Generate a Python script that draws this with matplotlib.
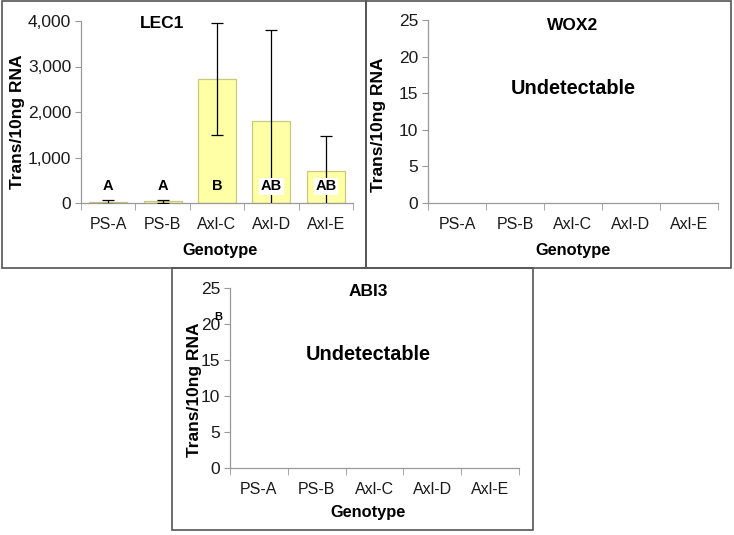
import matplotlib
matplotlib.use("Agg")
import matplotlib.pyplot as plt
from matplotlib.patches import Rectangle
import numpy as np

plt.rcParams['font.family'] = ['Liberation Sans', 'DejaVu Sans']

W, H = 734, 535

genotypes = ["PS-A", "PS-B", "Axl-C", "Axl-D", "Axl-E"]
lec1_mean = [25, 40, 2720, 1800, 700]
lec1_err = [40, 35, 1230, 2010, 775]
lec1_letters = ["A", "A", "B", "AB", "AB"]
lec1_boxed = [False, False, False, True, True]
letter_y = 370

fig = plt.figure(figsize=(W / 100, H / 100), dpi=100)


def px_axes(left, right, top, bottom):
    # pixel box -> figure fraction
    return fig.add_axes([left / W, 1 - bottom / H, (right - left) / W, (bottom - top) / H])


def ftext(x, y, s, **kw):
    # text placed in pixel coords from top-left
    kw.setdefault("ha", "center")
    kw.setdefault("va", "center")
    return fig.text(x / W, 1 - y / H, s, **kw)


def style_axes(ax, ymax, step, fmt):
    x = np.arange(len(genotypes))
    ax.set_xlim(-0.5, len(genotypes) - 0.5)
    ax.set_ylim(0, ymax)
    ticks = np.arange(0, ymax + 1, step)
    ax.set_yticks(ticks)
    ax.set_yticklabels([fmt.format(v) for v in ticks], fontsize=12.5, color="#1a1a1a")
    ax.set_xticks(x)
    ax.set_xticklabels(genotypes, fontsize=11.5, color="#1a1a1a")
    ax.set_xticks(np.arange(-0.5, len(genotypes)), minor=True)
    ax.tick_params(axis="x", which="major", length=0, pad=10)
    ax.tick_params(axis="x", which="minor", length=5, color="#999999", direction="out")
    ax.tick_params(axis="y", length=4, color="#999999", direction="out", pad=3)
    for s in ["top", "right"]:
        ax.spines[s].set_visible(False)
    for s in ["left", "bottom"]:
        ax.spines[s].set_color("#999999")
        ax.spines[s].set_linewidth(0.9)
    ax.set_facecolor("none")


bold = dict(fontweight="bold", color="black")

# LEC1
ax1 = px_axes(81, 353, 21, 203)
style_axes(ax1, 4000, 1000, "{:,.0f}")
ax1.bar(np.arange(len(genotypes)), lec1_mean, width=0.7, color="#ffffa6",
        edgecolor="#c9c97a", linewidth=0.9, zorder=2)
ax1.errorbar(np.arange(len(genotypes)), lec1_mean, yerr=lec1_err, fmt="none",
             ecolor="black", elinewidth=0.9, capsize=4.5, capthick=0.9, zorder=3)
for i, (lab, boxed) in enumerate(zip(lec1_letters, lec1_boxed)):
    kw = {}
    if boxed:
        kw["bbox"] = dict(facecolor="white", edgecolor="none", pad=1.2)
    ax1.text(i, letter_y, lab, ha="center", va="center", fontsize=10.5,
             fontweight="bold", zorder=4, **kw)
ftext(162, 24, "LEC1", fontsize=12.5, **bold)
ftext(18, 122, "Trans/10ng RNA", rotation=90, fontsize=12.5, **bold)
ftext(220, 250, "Genotype", fontsize=11.8, **bold)

# WOX2
ax2 = px_axes(428, 718, 20, 203)
style_axes(ax2, 25, 5, "{:.0f}")
ftext(573, 26, "WOX2", fontsize=12.5, **bold)
ftext(573, 88, "Undetectable", fontsize=14.3, **bold)
ftext(378, 125, "Trans/10ng RNA", rotation=90, fontsize=12.5, **bold)
ftext(573, 250, "Genotype", fontsize=11.8, **bold)

# ABI3
ax3 = px_axes(230, 519, 288, 468)
style_axes(ax3, 25, 5, "{:.0f}")
ftext(368, 292, "ABI3", fontsize=12.5, **bold)
ftext(368, 354, "Undetectable", fontsize=14.3, **bold)
ftext(218, 317, "B", fontsize=8, **bold)
ftext(195, 390, "Trans/10ng RNA", rotation=90, fontsize=12.5, **bold)
ftext(368, 513, "Genotype", fontsize=11.8, **bold)

# panel frames
for (l, t, r, b) in [(2, 1, 366, 268), (366, 1, 731, 268), (172, 268, 533, 530)]:
    fig.patches.append(Rectangle((l / W, 1 - b / H), (r - l) / W, (b - t) / H,
                                 transform=fig.transFigure, fill=False,
                                 edgecolor="#555555", linewidth=1.2))

fig.savefig("out.png", dpi=100)
